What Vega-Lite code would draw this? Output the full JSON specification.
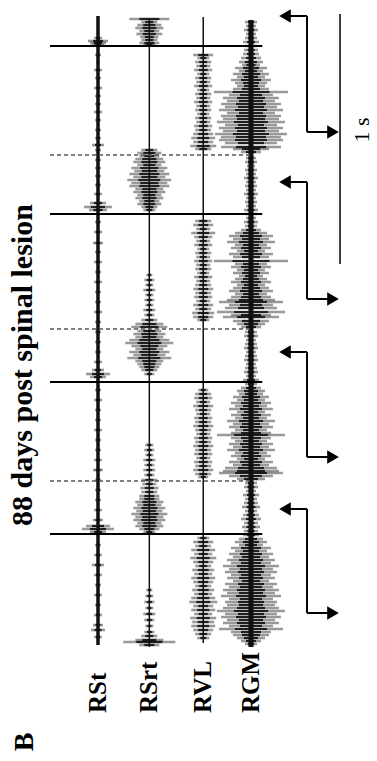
{
"$schema":"https://vega.github.io/schema/vega-lite/v6.json",
"width":377,"height":761,"padding":0,
"autosize":{"type":"fit","contains":"padding"},
"background":"white",
"config":{"view":{"stroke":null},"axis":{"disable":true},"legend":{"disable":true}},
"resolve":{"scale":{"size":"independent"}},
"datasets":{
"ch":[{"c":"RSt","lane":1,"t0":2516,"t1":0,"noise":35},{"c":"RSrt","lane":2,"t0":2504,"t1":-8,"noise":15},{"c":"RVL","lane":3.05,"t0":2512,"t1":8,"noise":15},{"c":"RGM","lane":3.98,"t0":2500,"t1":-8,"noise":50}],
"emg":[
{"c":"RSt","t":2428,"pp":80},{"c":"RSt","t":2416,"pp":200},{"c":"RSt","t":2408,"pp":160},{"c":"RSt","t":2400,"pp":120},{"c":"RSt","t":2360,"pp":60},{"c":"RSt","t":2332,"pp":40},{"c":"RSt","t":2300,"pp":80},{"c":"RSt","t":2268,"pp":60},{"c":"RSt","t":2228,"pp":80},{"c":"RSt","t":2196,"pp":60},{"c":"RSt","t":2164,"pp":60},{"c":"RSt","t":2132,"pp":80},{"c":"RSt","t":2100,"pp":60},{"c":"RSt","t":2060,"pp":60},{"c":"RSt","t":2028,"pp":60},{"c":"RSt","t":2000,"pp":120},{"c":"RSt","t":1980,"pp":60},{"c":"RSt","t":1940,"pp":60},{"c":"RSt","t":1908,"pp":60},{"c":"RSt","t":1876,"pp":60},{"c":"RSt","t":1840,"pp":60},{"c":"RSt","t":1804,"pp":80},{"c":"RSt","t":1768,"pp":160},{"c":"RSt","t":1752,"pp":280},{"c":"RSt","t":1740,"pp":180},{"c":"RSt","t":1692,"pp":60},{"c":"RSt","t":1652,"pp":80},{"c":"RSt","t":1608,"pp":100},{"c":"RSt","t":1572,"pp":60},{"c":"RSt","t":1532,"pp":80},{"c":"RSt","t":1492,"pp":60},{"c":"RSt","t":1452,"pp":80},{"c":"RSt","t":1412,"pp":60},{"c":"RSt","t":1372,"pp":60},{"c":"RSt","t":1332,"pp":80},{"c":"RSt","t":1292,"pp":60},{"c":"RSt","t":1252,"pp":60},{"c":"RSt","t":1212,"pp":60},{"c":"RSt","t":1172,"pp":60},{"c":"RSt","t":1132,"pp":80},{"c":"RSt","t":1100,"pp":120},{"c":"RSt","t":1084,"pp":240},{"c":"RSt","t":1072,"pp":160},{"c":"RSt","t":1020,"pp":60},{"c":"RSt","t":980,"pp":80},{"c":"RSt","t":940,"pp":60},{"c":"RSt","t":900,"pp":60},{"c":"RSt","t":860,"pp":80},{"c":"RSt","t":820,"pp":60},{"c":"RSt","t":780,"pp":60},{"c":"RSt","t":740,"pp":80},{"c":"RSt","t":700,"pp":100},{"c":"RSt","t":660,"pp":60},{"c":"RSt","t":620,"pp":60},{"c":"RSt","t":580,"pp":60},{"c":"RSt","t":540,"pp":80},{"c":"RSt","t":500,"pp":100},{"c":"RSt","t":476,"pp":240},{"c":"RSt","t":464,"pp":320},{"c":"RSt","t":452,"pp":160},{"c":"RSt","t":400,"pp":60},{"c":"RSt","t":360,"pp":80},{"c":"RSt","t":320,"pp":120},{"c":"RSt","t":280,"pp":80},{"c":"RSt","t":240,"pp":60},{"c":"RSt","t":200,"pp":80},{"c":"RSt","t":160,"pp":60},{"c":"RSt","t":120,"pp":80},{"c":"RSt","t":80,"pp":100},{"c":"RSt","t":60,"pp":140},{"c":"RSt","t":32,"pp":80},
{"c":"RSrt","t":2504,"pp":400},{"c":"RSrt","t":2492,"pp":160},{"c":"RSrt","t":2480,"pp":240},{"c":"RSrt","t":2468,"pp":280},{"c":"RSrt","t":2456,"pp":200},{"c":"RSrt","t":2444,"pp":260},{"c":"RSrt","t":2432,"pp":180},{"c":"RSrt","t":2420,"pp":160},{"c":"RSrt","t":2408,"pp":200},{"c":"RSrt","t":2400,"pp":120},{"c":"RSrt","t":1980,"pp":160},{"c":"RSrt","t":1968,"pp":240},{"c":"RSrt","t":1956,"pp":200},{"c":"RSrt","t":1944,"pp":280},{"c":"RSrt","t":1932,"pp":320},{"c":"RSrt","t":1920,"pp":240},{"c":"RSrt","t":1908,"pp":360},{"c":"RSrt","t":1896,"pp":300},{"c":"RSrt","t":1884,"pp":400},{"c":"RSrt","t":1872,"pp":320},{"c":"RSrt","t":1860,"pp":440},{"c":"RSrt","t":1848,"pp":360},{"c":"RSrt","t":1836,"pp":400},{"c":"RSrt","t":1824,"pp":280},{"c":"RSrt","t":1812,"pp":320},{"c":"RSrt","t":1800,"pp":240},{"c":"RSrt","t":1788,"pp":280},{"c":"RSrt","t":1776,"pp":200},{"c":"RSrt","t":1764,"pp":240},{"c":"RSrt","t":1752,"pp":160},{"c":"RSrt","t":1740,"pp":120},{"c":"RSrt","t":1480,"pp":60},{"c":"RSrt","t":1460,"pp":100},{"c":"RSrt","t":1440,"pp":80},{"c":"RSrt","t":1420,"pp":120},{"c":"RSrt","t":1400,"pp":80},{"c":"RSrt","t":1380,"pp":100},{"c":"RSrt","t":1360,"pp":80},{"c":"RSrt","t":1340,"pp":120},{"c":"RSrt","t":1320,"pp":100},{"c":"RSrt","t":1300,"pp":160},{"c":"RSrt","t":1284,"pp":280},{"c":"RSrt","t":1272,"pp":360},{"c":"RSrt","t":1256,"pp":240},{"c":"RSrt","t":1244,"pp":320},{"c":"RSrt","t":1232,"pp":280},{"c":"RSrt","t":1220,"pp":400},{"c":"RSrt","t":1208,"pp":480},{"c":"RSrt","t":1196,"pp":360},{"c":"RSrt","t":1184,"pp":280},{"c":"RSrt","t":1172,"pp":400},{"c":"RSrt","t":1160,"pp":320},{"c":"RSrt","t":1148,"pp":440},{"c":"RSrt","t":1136,"pp":280},{"c":"RSrt","t":1124,"pp":240},{"c":"RSrt","t":1112,"pp":200},{"c":"RSrt","t":1100,"pp":160},{"c":"RSrt","t":1084,"pp":100},{"c":"RSrt","t":800,"pp":80},{"c":"RSrt","t":780,"pp":100},{"c":"RSrt","t":760,"pp":80},{"c":"RSrt","t":740,"pp":120},{"c":"RSrt","t":720,"pp":100},{"c":"RSrt","t":700,"pp":120},{"c":"RSrt","t":680,"pp":100},{"c":"RSrt","t":660,"pp":160},{"c":"RSrt","t":644,"pp":140},{"c":"RSrt","t":628,"pp":180},{"c":"RSrt","t":612,"pp":160},{"c":"RSrt","t":596,"pp":200},{"c":"RSrt","t":584,"pp":200},{"c":"RSrt","t":572,"pp":280},{"c":"RSrt","t":560,"pp":240},{"c":"RSrt","t":548,"pp":320},{"c":"RSrt","t":536,"pp":260},{"c":"RSrt","t":524,"pp":360},{"c":"RSrt","t":512,"pp":280},{"c":"RSrt","t":500,"pp":320},{"c":"RSrt","t":488,"pp":240},{"c":"RSrt","t":476,"pp":280},{"c":"RSrt","t":464,"pp":200},{"c":"RSrt","t":452,"pp":120},{"c":"RSrt","t":220,"pp":60},{"c":"RSrt","t":196,"pp":80},{"c":"RSrt","t":172,"pp":100},{"c":"RSrt","t":148,"pp":80},{"c":"RSrt","t":124,"pp":120},{"c":"RSrt","t":100,"pp":100},{"c":"RSrt","t":76,"pp":80},{"c":"RSrt","t":52,"pp":100},{"c":"RSrt","t":36,"pp":160},{"c":"RSrt","t":20,"pp":280},{"c":"RSrt","t":12,"pp":520},{"c":"RSrt","t":0,"pp":200},
{"c":"RVL","t":2360,"pp":200},{"c":"RVL","t":2348,"pp":120},{"c":"RVL","t":2332,"pp":160},{"c":"RVL","t":2316,"pp":140},{"c":"RVL","t":2300,"pp":180},{"c":"RVL","t":2284,"pp":120},{"c":"RVL","t":2268,"pp":160},{"c":"RVL","t":2252,"pp":140},{"c":"RVL","t":2236,"pp":180},{"c":"RVL","t":2220,"pp":120},{"c":"RVL","t":2204,"pp":160},{"c":"RVL","t":2188,"pp":140},{"c":"RVL","t":2172,"pp":180},{"c":"RVL","t":2156,"pp":140},{"c":"RVL","t":2140,"pp":160},{"c":"RVL","t":2124,"pp":120},{"c":"RVL","t":2108,"pp":160},{"c":"RVL","t":2092,"pp":140},{"c":"RVL","t":2076,"pp":180},{"c":"RVL","t":2060,"pp":160},{"c":"RVL","t":2044,"pp":200},{"c":"RVL","t":2028,"pp":240},{"c":"RVL","t":2012,"pp":200},{"c":"RVL","t":1996,"pp":260},{"c":"RVL","t":1984,"pp":160},{"c":"RVL","t":1696,"pp":160},{"c":"RVL","t":1680,"pp":200},{"c":"RVL","t":1664,"pp":140},{"c":"RVL","t":1648,"pp":240},{"c":"RVL","t":1632,"pp":180},{"c":"RVL","t":1616,"pp":140},{"c":"RVL","t":1600,"pp":180},{"c":"RVL","t":1584,"pp":120},{"c":"RVL","t":1568,"pp":160},{"c":"RVL","t":1552,"pp":140},{"c":"RVL","t":1536,"pp":180},{"c":"RVL","t":1520,"pp":140},{"c":"RVL","t":1504,"pp":160},{"c":"RVL","t":1488,"pp":120},{"c":"RVL","t":1472,"pp":180},{"c":"RVL","t":1456,"pp":140},{"c":"RVL","t":1440,"pp":160},{"c":"RVL","t":1424,"pp":200},{"c":"RVL","t":1408,"pp":160},{"c":"RVL","t":1392,"pp":180},{"c":"RVL","t":1376,"pp":140},{"c":"RVL","t":1360,"pp":200},{"c":"RVL","t":1344,"pp":160},{"c":"RVL","t":1328,"pp":220},{"c":"RVL","t":1312,"pp":200},{"c":"RVL","t":1300,"pp":120},{"c":"RVL","t":1020,"pp":100},{"c":"RVL","t":1004,"pp":160},{"c":"RVL","t":988,"pp":180},{"c":"RVL","t":972,"pp":140},{"c":"RVL","t":956,"pp":200},{"c":"RVL","t":940,"pp":160},{"c":"RVL","t":924,"pp":140},{"c":"RVL","t":908,"pp":180},{"c":"RVL","t":892,"pp":160},{"c":"RVL","t":876,"pp":200},{"c":"RVL","t":860,"pp":160},{"c":"RVL","t":844,"pp":140},{"c":"RVL","t":828,"pp":180},{"c":"RVL","t":812,"pp":160},{"c":"RVL","t":796,"pp":200},{"c":"RVL","t":780,"pp":160},{"c":"RVL","t":764,"pp":180},{"c":"RVL","t":748,"pp":140},{"c":"RVL","t":732,"pp":180},{"c":"RVL","t":716,"pp":160},{"c":"RVL","t":700,"pp":200},{"c":"RVL","t":684,"pp":160},{"c":"RVL","t":672,"pp":100},{"c":"RVL","t":428,"pp":120},{"c":"RVL","t":412,"pp":200},{"c":"RVL","t":396,"pp":160},{"c":"RVL","t":380,"pp":240},{"c":"RVL","t":364,"pp":180},{"c":"RVL","t":348,"pp":260},{"c":"RVL","t":332,"pp":200},{"c":"RVL","t":316,"pp":160},{"c":"RVL","t":300,"pp":220},{"c":"RVL","t":284,"pp":180},{"c":"RVL","t":268,"pp":240},{"c":"RVL","t":252,"pp":200},{"c":"RVL","t":236,"pp":160},{"c":"RVL","t":220,"pp":220},{"c":"RVL","t":204,"pp":180},{"c":"RVL","t":188,"pp":240},{"c":"RVL","t":172,"pp":280},{"c":"RVL","t":156,"pp":200},{"c":"RVL","t":140,"pp":240},{"c":"RVL","t":124,"pp":180},{"c":"RVL","t":108,"pp":260},{"c":"RVL","t":92,"pp":220},{"c":"RVL","t":76,"pp":240},{"c":"RVL","t":60,"pp":200},{"c":"RVL","t":44,"pp":160},{"c":"RVL","t":28,"pp":120},
{"c":"RGM","t":2492,"pp":120},{"c":"RGM","t":2476,"pp":100},{"c":"RGM","t":2460,"pp":140},{"c":"RGM","t":2444,"pp":100},{"c":"RGM","t":2428,"pp":120},{"c":"RGM","t":2412,"pp":160},{"c":"RGM","t":2396,"pp":120},{"c":"RGM","t":2380,"pp":140},{"c":"RGM","t":2364,"pp":160},{"c":"RGM","t":2348,"pp":200},{"c":"RGM","t":2332,"pp":240},{"c":"RGM","t":2320,"pp":180},{"c":"RGM","t":2308,"pp":320},{"c":"RGM","t":2296,"pp":240},{"c":"RGM","t":2284,"pp":360},{"c":"RGM","t":2272,"pp":280},{"c":"RGM","t":2260,"pp":400},{"c":"RGM","t":2248,"pp":320},{"c":"RGM","t":2236,"pp":280},{"c":"RGM","t":2224,"pp":360},{"c":"RGM","t":2212,"pp":740},{"c":"RGM","t":2200,"pp":440},{"c":"RGM","t":2188,"pp":560},{"c":"RGM","t":2176,"pp":480},{"c":"RGM","t":2164,"pp":600},{"c":"RGM","t":2152,"pp":520},{"c":"RGM","t":2140,"pp":640},{"c":"RGM","t":2128,"pp":480},{"c":"RGM","t":2116,"pp":600},{"c":"RGM","t":2104,"pp":560},{"c":"RGM","t":2092,"pp":680},{"c":"RGM","t":2080,"pp":520},{"c":"RGM","t":2068,"pp":640},{"c":"RGM","t":2056,"pp":560},{"c":"RGM","t":2044,"pp":720},{"c":"RGM","t":2032,"pp":600},{"c":"RGM","t":2020,"pp":640},{"c":"RGM","t":2008,"pp":520},{"c":"RGM","t":1992,"pp":600},{"c":"RGM","t":1984,"pp":360},{"c":"RGM","t":1972,"pp":200},{"c":"RGM","t":1948,"pp":100},{"c":"RGM","t":1932,"pp":120},{"c":"RGM","t":1916,"pp":80},{"c":"RGM","t":1900,"pp":120},{"c":"RGM","t":1884,"pp":100},{"c":"RGM","t":1868,"pp":140},{"c":"RGM","t":1852,"pp":100},{"c":"RGM","t":1836,"pp":120},{"c":"RGM","t":1820,"pp":100},{"c":"RGM","t":1804,"pp":140},{"c":"RGM","t":1788,"pp":100},{"c":"RGM","t":1772,"pp":120},{"c":"RGM","t":1756,"pp":100},{"c":"RGM","t":1740,"pp":140},{"c":"RGM","t":1724,"pp":120},{"c":"RGM","t":1708,"pp":100},{"c":"RGM","t":1692,"pp":140},{"c":"RGM","t":1676,"pp":120},{"c":"RGM","t":1660,"pp":200},{"c":"RGM","t":1648,"pp":320},{"c":"RGM","t":1636,"pp":440},{"c":"RGM","t":1624,"pp":360},{"c":"RGM","t":1612,"pp":480},{"c":"RGM","t":1600,"pp":320},{"c":"RGM","t":1588,"pp":400},{"c":"RGM","t":1576,"pp":280},{"c":"RGM","t":1564,"pp":440},{"c":"RGM","t":1552,"pp":360},{"c":"RGM","t":1536,"pp":740},{"c":"RGM","t":1524,"pp":320},{"c":"RGM","t":1512,"pp":400},{"c":"RGM","t":1500,"pp":280},{"c":"RGM","t":1488,"pp":360},{"c":"RGM","t":1476,"pp":240},{"c":"RGM","t":1464,"pp":320},{"c":"RGM","t":1452,"pp":400},{"c":"RGM","t":1440,"pp":280},{"c":"RGM","t":1428,"pp":360},{"c":"RGM","t":1416,"pp":440},{"c":"RGM","t":1404,"pp":320},{"c":"RGM","t":1392,"pp":400},{"c":"RGM","t":1380,"pp":480},{"c":"RGM","t":1372,"pp":640},{"c":"RGM","t":1360,"pp":440},{"c":"RGM","t":1348,"pp":520},{"c":"RGM","t":1332,"pp":680},{"c":"RGM","t":1320,"pp":400},{"c":"RGM","t":1312,"pp":560},{"c":"RGM","t":1296,"pp":360},{"c":"RGM","t":1284,"pp":280},{"c":"RGM","t":1272,"pp":200},{"c":"RGM","t":1252,"pp":120},{"c":"RGM","t":1236,"pp":140},{"c":"RGM","t":1220,"pp":100},{"c":"RGM","t":1204,"pp":120},{"c":"RGM","t":1188,"pp":140},{"c":"RGM","t":1172,"pp":100},{"c":"RGM","t":1156,"pp":120},{"c":"RGM","t":1140,"pp":140},{"c":"RGM","t":1124,"pp":100},{"c":"RGM","t":1108,"pp":120},{"c":"RGM","t":1092,"pp":140},{"c":"RGM","t":1076,"pp":100},{"c":"RGM","t":1060,"pp":160},{"c":"RGM","t":1044,"pp":120},{"c":"RGM","t":1028,"pp":200},{"c":"RGM","t":1016,"pp":280},{"c":"RGM","t":1004,"pp":240},{"c":"RGM","t":992,"pp":360},{"c":"RGM","t":980,"pp":280},{"c":"RGM","t":968,"pp":400},{"c":"RGM","t":956,"pp":320},{"c":"RGM","t":944,"pp":440},{"c":"RGM","t":932,"pp":280},{"c":"RGM","t":920,"pp":400},{"c":"RGM","t":908,"pp":320},{"c":"RGM","t":896,"pp":480},{"c":"RGM","t":884,"pp":360},{"c":"RGM","t":872,"pp":440},{"c":"RGM","t":860,"pp":320},{"c":"RGM","t":848,"pp":400},{"c":"RGM","t":840,"pp":680},{"c":"RGM","t":828,"pp":400},{"c":"RGM","t":816,"pp":320},{"c":"RGM","t":804,"pp":440},{"c":"RGM","t":792,"pp":360},{"c":"RGM","t":780,"pp":480},{"c":"RGM","t":768,"pp":320},{"c":"RGM","t":756,"pp":400},{"c":"RGM","t":744,"pp":280},{"c":"RGM","t":732,"pp":440},{"c":"RGM","t":720,"pp":360},{"c":"RGM","t":708,"pp":520},{"c":"RGM","t":696,"pp":560},{"c":"RGM","t":688,"pp":640},{"c":"RGM","t":676,"pp":440},{"c":"RGM","t":664,"pp":280},{"c":"RGM","t":648,"pp":120},{"c":"RGM","t":632,"pp":140},{"c":"RGM","t":616,"pp":100},{"c":"RGM","t":600,"pp":160},{"c":"RGM","t":584,"pp":120},{"c":"RGM","t":568,"pp":140},{"c":"RGM","t":552,"pp":180},{"c":"RGM","t":536,"pp":120},{"c":"RGM","t":520,"pp":160},{"c":"RGM","t":504,"pp":200},{"c":"RGM","t":488,"pp":140},{"c":"RGM","t":472,"pp":180},{"c":"RGM","t":456,"pp":140},{"c":"RGM","t":440,"pp":160},{"c":"RGM","t":424,"pp":240},{"c":"RGM","t":412,"pp":320},{"c":"RGM","t":400,"pp":240},{"c":"RGM","t":388,"pp":400},{"c":"RGM","t":376,"pp":320},{"c":"RGM","t":364,"pp":440},{"c":"RGM","t":352,"pp":360},{"c":"RGM","t":340,"pp":480},{"c":"RGM","t":328,"pp":400},{"c":"RGM","t":316,"pp":560},{"c":"RGM","t":304,"pp":440},{"c":"RGM","t":292,"pp":520},{"c":"RGM","t":280,"pp":400},{"c":"RGM","t":268,"pp":480},{"c":"RGM","t":256,"pp":360},{"c":"RGM","t":244,"pp":520},{"c":"RGM","t":232,"pp":440},{"c":"RGM","t":220,"pp":560},{"c":"RGM","t":208,"pp":480},{"c":"RGM","t":196,"pp":600},{"c":"RGM","t":184,"pp":440},{"c":"RGM","t":172,"pp":520},{"c":"RGM","t":160,"pp":480},{"c":"RGM","t":148,"pp":560},{"c":"RGM","t":136,"pp":680},{"c":"RGM","t":124,"pp":520},{"c":"RGM","t":112,"pp":600},{"c":"RGM","t":100,"pp":480},{"c":"RGM","t":88,"pp":560},{"c":"RGM","t":76,"pp":440},{"c":"RGM","t":64,"pp":640},{"c":"RGM","t":52,"pp":400},{"c":"RGM","t":40,"pp":360},{"c":"RGM","t":28,"pp":280},{"c":"RGM","t":16,"pp":200},{"c":"RGM","t":4,"pp":120}
],
"cycles":[{"t":2396},{"t":1724},{"t":1052},{"t":444}],
"offsets":[{"t":1960},{"t":1264},{"t":656}],
"phases":[{"top":2516,"bot":2052},{"top":1852,"bot":1384},{"top":1172,"bot":752},{"top":544,"bot":128}]
},
"layer":[
{"data":{"name":"emg"},
 "transform":[{"lookup":"c","from":{"data":{"name":"ch"},"key":"c","fields":["lane"]}}],
 "mark":{"type":"tick","orient":"horizontal","color":"#333","opacity":0.5,"thickness":2.6},
 "encoding":{"x":{"field":"lane","type":"quantitative","scale":{"domain":[-0.909,6.435],"nice":false,"zero":false}},
 "y":{"field":"t","type":"quantitative","scale":{"domain":[-464,2580],"nice":false,"zero":false}},
 "size":{"field":"pp","type":"quantitative","scale":{"type":"linear","domain":[0,1000],"range":[0,100]},"legend":null}}},
{"data":{"name":"emg"},
 "transform":[{"lookup":"c","from":{"data":{"name":"ch"},"key":"c","fields":["lane"]}}],
 "mark":{"type":"tick","orient":"horizontal","color":"#000","opacity":0.8,"thickness":2.2},
 "encoding":{"x":{"field":"lane","type":"quantitative"},"y":{"field":"t","type":"quantitative"},
 "size":{"field":"pp","type":"quantitative","scale":{"type":"linear","domain":[0,1000],"range":[0,50]},"legend":null}}},
{"data":{"name":"ch"},"mark":{"type":"rule","color":"#111"},
 "encoding":{"x":{"field":"lane","type":"quantitative"},
 "y":{"field":"t0","type":"quantitative"},"y2":{"field":"t1"},
 "size":{"field":"noise","type":"quantitative","scale":{"type":"linear","domain":[0,1000],"range":[0,100]},"legend":null}}},
{"data":{"name":"cycles"},"mark":{"type":"rule","color":"#000","strokeWidth":1.8},
 "encoding":{"y":{"field":"t","type":"quantitative"},"x":{"datum":0.065,"type":"quantitative"},"x2":{"datum":4.2}}},
{"data":{"name":"offsets"},"mark":{"type":"rule","color":"#555","strokeWidth":1.5,"strokeDash":[4,3]},
 "encoding":{"y":{"field":"t","type":"quantitative"},"x":{"datum":0.065,"type":"quantitative"},"x2":{"datum":3.96}}},
{"data":{"name":"phases"},"mark":{"type":"rule","color":"#000","strokeWidth":2},
 "encoding":{"x":{"datum":5.072,"type":"quantitative"},"y":{"field":"top","type":"quantitative"},"y2":{"field":"bot"}}},
{"data":{"name":"phases"},"mark":{"type":"rule","color":"#000","strokeWidth":2},
 "encoding":{"x":{"datum":5.072,"type":"quantitative"},"x2":{"datum":4.643},"y":{"field":"top","type":"quantitative"}}},
{"data":{"name":"phases"},"mark":{"type":"rule","color":"#000","strokeWidth":2},
 "encoding":{"x":{"datum":5.072,"type":"quantitative"},"x2":{"datum":5.578},"y":{"field":"bot","type":"quantitative"}}},
{"data":{"name":"phases"},"mark":{"type":"point","shape":"triangle-left","filled":true,"color":"#000","size":180,"opacity":1},
 "encoding":{"x":{"datum":4.643,"type":"quantitative"},"y":{"field":"top","type":"quantitative"}}},
{"data":{"name":"phases"},"mark":{"type":"point","shape":"triangle-right","filled":true,"color":"#000","size":180,"opacity":1},
 "encoding":{"x":{"datum":5.578,"type":"quantitative"},"y":{"field":"bot","type":"quantitative"}}},
{"data":{"values":[{"t0":1524,"t1":2524}]},"mark":{"type":"rule","color":"#000","strokeWidth":1.5},
 "encoding":{"x":{"datum":5.715,"type":"quantitative"},"y":{"field":"t0","type":"quantitative"},"y2":{"field":"t1"}}},
{"data":{"values":[{"t":2060,"label":"1 s"}]},"mark":{"type":"text","angle":270,"align":"center","baseline":"middle","font":"Liberation Serif","fontSize":22,"color":"#000"},
 "encoding":{"x":{"datum":6.143,"type":"quantitative"},"y":{"field":"t","type":"quantitative"},"text":{"field":"label"}}},
{"data":{"name":"ch"},"mark":{"type":"text","angle":270,"align":"left","baseline":"middle","font":"Liberation Serif","fontWeight":"bold","fontSize":25,"color":"#000"},
 "encoding":{"x":{"field":"lane","type":"quantitative"},"y":{"datum":-272,"type":"quantitative"},"text":{"field":"c"}}},
{"data":{"values":[{"title":"88 days post spinal lesion","t":1120}]},"mark":{"type":"text","angle":270,"align":"center","baseline":"middle","font":"Liberation Serif","fontWeight":"bold","fontSize":30,"color":"#000"},
 "encoding":{"x":{"datum":-0.461,"type":"quantitative"},"y":{"field":"t","type":"quantitative"},"text":{"field":"title"}}},
{"data":{"values":[{"panel":"B","tp":-388}]},"mark":{"type":"text","angle":270,"align":"center","baseline":"middle","font":"Liberation Serif","fontWeight":"bold","fontSize":28,"color":"#000"},
 "encoding":{"x":{"datum":-0.422,"type":"quantitative"},"y":{"field":"tp","type":"quantitative"},"text":{"field":"panel"}}}
]
}
